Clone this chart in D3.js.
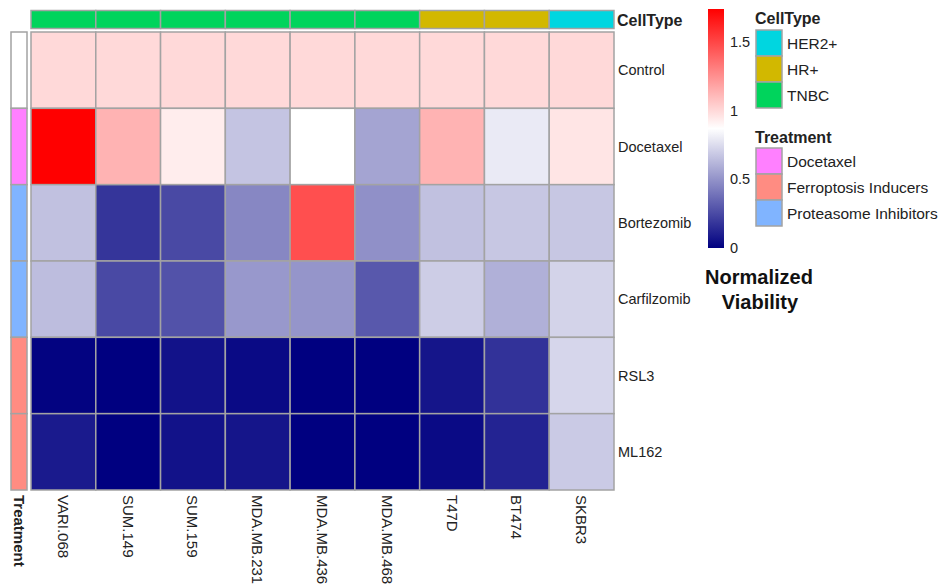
<!DOCTYPE html>
<html>
<head>
<meta charset="utf-8">
<script src="https://cdn.jsdelivr.net/npm/d3@7"></script>
<style>
  html, body { margin: 0; padding: 0; background: #fff; }
  svg { display: block; font-family: Arial, "Liberation Sans", sans-serif; }
</style>
</head>
<body>
<svg id="chart" width="938" height="588"></svg>
<script>
// Cell lines (columns) and treatments (rows)
const cellLines = ["VARI.068", "SUM.149", "SUM.159", "MDA.MB.231", "MDA.MB.436", "MDA.MB.468", "T47D", "BT474", "SKBR3"];
const cellTypes = ["TNBC", "TNBC", "TNBC", "TNBC", "TNBC", "TNBC", "HR+", "HR+", "HER2+"];
const treatments = ["Control", "Docetaxel", "Bortezomib", "Carfilzomib", "RSL3", "ML162"];
const treatmentClass = [null, "Docetaxel", "Proteasome Inhibitors", "Proteasome Inhibitors", "Ferroptosis Inducers", "Ferroptosis Inducers"];

// Normalized viability, one array per treatment, in cell-line order
const control     = [1.00, 1.00, 1.00, 1.00, 1.00, 1.00, 1.00, 1.00, 1.00];
const docetaxel   = [1.74, 1.13, 0.93, 0.67, 0.87, 0.56, 1.13, 0.80, 0.96];
const bortezomib  = [0.66, 0.18, 0.25, 0.46, 1.47, 0.49, 0.66, 0.68, 0.68];
const carfilzomib = [0.645, 0.25, 0.28, 0.52, 0.51, 0.30, 0.70, 0.60, 0.72];
const rsl3        = [0.01, 0.00, 0.06, 0.035, 0.00, 0.00, 0.07, 0.17, 0.73];
const ml162       = [0.09, 0.00, 0.06, 0.07, 0.00, 0.00, 0.035, 0.12, 0.69];
const viability = [control, docetaxel, bortezomib, carfilzomib, rsl3, ml162];

// Legend entries and ticks
const cellTypeLevels = ["HER2+", "HR+", "TNBC"];
const treatmentLevels = ["Docetaxel", "Ferroptosis Inducers", "Proteasome Inhibitors"];
const colorTicks = [0, 0.5, 1, 1.5];

const cellTypeColor = d3.scaleOrdinal()
  .domain(cellTypeLevels)
  .range(["#00D6E0", "#D2B800", "#00D45C"]);
const treatmentColor = d3.scaleOrdinal()
  .domain(treatmentLevels)
  .range(["#FF80FF", "#FF8C82", "#80B4FF"]);

const allVals = viability.flat();
const vMin = d3.min(allVals), vMax = d3.max(allVals);
const vMid = (vMin + vMax) / 2;
const heatColor = d3.scaleLinear()
  .domain([vMin, vMid, vMax])
  .range(["#000080", "#ffffff", "#ff0000"])
  .interpolate(d3.interpolateRgb);

const svg = d3.select("#chart");
const gridStroke = "#A3A3A3";
const textColor = "#222";

// Heatmap geometry
const hm = { left: 31, right: 614, top: 32, bottom: 490 };
const x = d3.scaleBand().domain(cellLines).range([hm.left, hm.right]);
const y = d3.scaleBand().domain(treatments).range([hm.top, hm.bottom]);

// Heatmap cells
const cells = [];
treatments.forEach((t, i) => cellLines.forEach((c, j) => cells.push({ t, c, v: viability[i][j] })));
svg.append("g").selectAll("rect").data(cells).join("rect")
  .attr("x", d => x(d.c))
  .attr("y", d => y(d.t))
  .attr("width", x.bandwidth())
  .attr("height", y.bandwidth())
  .attr("fill", d => heatColor(d.v))
  .attr("stroke", gridStroke)
  .attr("stroke-width", 1.5);

// Column annotation: cell type
const topBar = { top: 10.5, h: 18 };
svg.append("g").selectAll("rect").data(cellLines).join("rect")
  .attr("x", d => x(d))
  .attr("y", topBar.top)
  .attr("width", x.bandwidth())
  .attr("height", topBar.h)
  .attr("fill", (d, i) => cellTypeColor(cellTypes[i]))
  .attr("stroke", gridStroke)
  .attr("stroke-width", 1.5);
svg.append("text")
  .attr("x", 617).attr("y", topBar.top + topBar.h / 2 + 1)
  .attr("dominant-baseline", "central")
  .attr("font-size", 16).attr("font-weight", "bold").attr("fill", textColor)
  .text("CellType");

// Row annotation: treatment class
const leftBar = { left: 11, w: 16 };
svg.append("g").selectAll("rect").data(treatments).join("rect")
  .attr("x", leftBar.left)
  .attr("y", d => y(d))
  .attr("width", leftBar.w)
  .attr("height", y.bandwidth())
  .attr("fill", (d, i) => treatmentClass[i] ? treatmentColor(treatmentClass[i]) : "#ffffff")
  .attr("stroke", gridStroke)
  .attr("stroke-width", 1.5);
svg.append("text")
  .attr("transform", `translate(${leftBar.left + leftBar.w / 2},${hm.bottom + 5}) rotate(90)`)
  .attr("dominant-baseline", "central")
  .attr("font-size", 15).attr("font-weight", "bold").attr("fill", textColor)
  .text("Treatment");

// Row labels
svg.append("g").selectAll("text").data(treatments).join("text")
  .attr("x", hm.right + 4)
  .attr("y", d => y(d) + y.bandwidth() / 2)
  .attr("dominant-baseline", "central")
  .attr("font-size", 14.5).attr("fill", textColor)
  .text(d => d);

// Column labels
svg.append("g").selectAll("text").data(cellLines).join("text")
  .attr("transform", d => `translate(${x(d) + x.bandwidth() / 2},${hm.bottom + 5}) rotate(90)`)
  .attr("dominant-baseline", "central")
  .attr("font-size", 15).attr("fill", textColor)
  .text(d => d);

// Colour bar legend
const cb = { left: 708, w: 16, top: 9, bottom: 248 };
const cbScale = d3.scaleLinear().domain([vMin, vMax]).range([cb.bottom, cb.top]);
const defs = svg.append("defs");
const grad = defs.append("linearGradient").attr("id", "viabilityGrad")
  .attr("x1", 0).attr("y1", 1).attr("x2", 0).attr("y2", 0);
d3.range(0, 1.0001, 0.05).forEach(f => {
  grad.append("stop").attr("offset", f).attr("stop-color", heatColor(vMin + f * (vMax - vMin)));
});
svg.append("rect")
  .attr("x", cb.left).attr("y", cb.top)
  .attr("width", cb.w).attr("height", cb.bottom - cb.top)
  .attr("fill", "url(#viabilityGrad)");
const cbAxis = d3.axisRight(cbScale).tickValues(colorTicks).tickSize(0).tickPadding(6)
  .tickFormat(d3.format("~g"));
const cbG = svg.append("g").attr("transform", `translate(${cb.left + cb.w},0)`).call(cbAxis);
cbG.select(".domain").remove();
cbG.selectAll("text").attr("font-size", 14.5).attr("fill", textColor)
  .attr("font-family", "Arial, 'Liberation Sans', sans-serif");
svg.append("text")
  .attr("x", 759).attr("y", 277)
  .attr("text-anchor", "middle").attr("dominant-baseline", "central")
  .attr("font-size", 20).attr("font-weight", "bold").attr("fill", "#111")
  .text("Normalized");
svg.append("text")
  .attr("x", 760).attr("y", 302)
  .attr("text-anchor", "middle").attr("dominant-baseline", "central")
  .attr("font-size", 20).attr("font-weight", "bold").attr("fill", "#111")
  .text("Viability");

// Categorical legends
function categoryLegend(title, levels, scale, titleY, boxTop) {
  const g = svg.append("g");
  const boxH = 26, boxW = 26, boxX = 756;
  g.append("text")
    .attr("x", boxX - 1).attr("y", titleY)
    .attr("dominant-baseline", "central")
    .attr("font-size", 16).attr("font-weight", "bold").attr("fill", textColor)
    .text(title);
  g.selectAll("rect").data(levels).join("rect")
    .attr("x", boxX).attr("y", (d, i) => boxTop + i * boxH)
    .attr("width", boxW).attr("height", boxH)
    .attr("fill", d => scale(d))
    .attr("stroke", gridStroke).attr("stroke-width", 1.5);
  g.selectAll("text.lab").data(levels).join("text")
    .attr("class", "lab")
    .attr("x", boxX + boxW + 5).attr("y", (d, i) => boxTop + i * boxH + boxH / 2)
    .attr("dominant-baseline", "central")
    .attr("font-size", 15.5).attr("fill", textColor)
    .text(d => d);
}
categoryLegend("CellType", cellTypeLevels, cellTypeColor, 18, 30);
categoryLegend("Treatment", treatmentLevels, treatmentColor, 137, 148);
</script>
</body>
</html>
